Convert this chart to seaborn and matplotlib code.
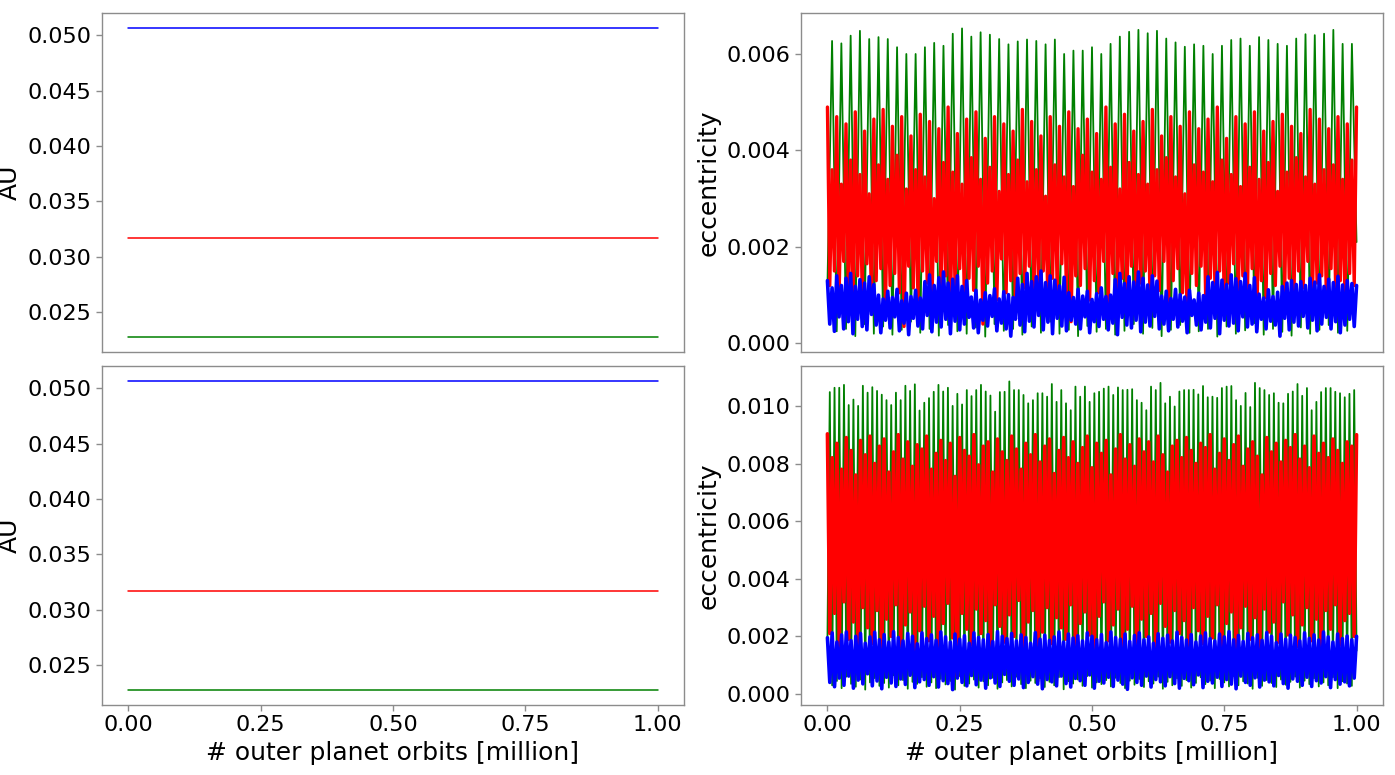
import numpy as np
import seaborn as sns
import matplotlib
matplotlib.use("Agg")
import matplotlib.pyplot as plt

# semi-major axes [AU], flat over the run (two end points)
time_au = [0.0, 1.0]
au_blue = [0.0506, 0.0506]
au_red = [0.0317, 0.0317]
au_green = [0.0228, 0.0228]

# eccentricity, units of 1e-5, read off the curves as alternating lows / highs
# --- top run ---
green_top_troughs = [120, 25, 30, 15, 40, 20, 35, 18, 28, 45,
                     22, 30, 16, 38, 25, 20, 33, 14, 40, 26,
                     30, 18, 35, 22, 45, 20, 28, 15, 36, 24,
                     30, 18, 26, 40, 20, 32, 15, 28, 38, 22,
                     25, 30, 14, 35, 20, 27, 42, 18, 30, 24,
                     16, 33, 20, 28, 38, 22, 26, 210]
green_top_peaks = [627, 622, 638, 648, 631, 635, 631, 614, 600, 600,
                   614, 623, 617, 642, 653, 636, 645, 640, 631, 620,
                   626, 630, 627, 620, 630, 600, 607, 607, 614, 600,
                   621, 636, 646, 650, 643, 648, 632, 624, 615, 620,
                   617, 600, 617, 629, 632, 617, 635, 629, 621, 617,
                   632, 641, 639, 642, 650, 621, 621]
red_top_highs = [490, 360, 470, 330, 455, 380, 480, 350, 440, 310,
                 465, 370, 485, 340, 450, 390, 470, 320, 430, 360,
                 475, 345, 460, 300, 445, 375, 490, 355, 435, 330,
                 465, 385, 480, 340, 425, 365, 470, 315, 455, 350,
                 440, 380, 485, 335, 460, 360, 430, 305, 470, 370,
                 450, 345, 480, 325, 445, 390, 465, 355, 435, 340,
                 490, 365, 455, 320, 475, 375, 440, 350, 460, 330,
                 485, 360, 430, 385, 470, 345, 450, 310, 480, 370,
                 445, 355, 465, 335, 490, 380, 425, 350, 470, 325,
                 455, 365, 480, 340, 440, 375, 460, 315, 475, 355,
                 450, 385, 435, 345, 485, 330, 465, 360, 445, 370,
                 470, 340, 455, 380, 490]
red_top_lows = [120, 150, 95, 170, 110, 60, 140, 100, 165, 85,
                130, 155, 75, 120, 145, 105, 35, 160, 115, 90,
                150, 125, 80, 170, 100, 140, 65, 115, 155, 95,
                135, 110, 160, 40, 125, 150, 90, 175, 105, 130,
                70, 145, 115, 160, 95, 120, 150, 85, 135, 110,
                165, 100, 45, 140, 120, 155, 90, 130, 105, 170,
                80, 145, 115, 135, 60, 160, 100, 125, 150, 95,
                140, 110, 170, 85, 130, 155, 105, 50, 145, 120,
                160, 90, 135, 115, 150, 75, 125, 165, 100, 140,
                110, 155, 30, 130, 95, 145, 120, 160, 105, 135,
                85, 150, 115, 170, 100, 125, 140, 90, 155, 110,
                130, 95, 145, 120]
blue_top_highs = [130, 115, 140, 120, 135, 145, 118, 132, 125, 138, 122,
                  100, 92, 108, 95, 112, 88, 104, 97, 110, 94,
                  128, 142, 120, 136, 148, 125, 133, 140, 118, 130,
                  96, 110, 90, 105, 99, 113, 92, 107, 101, 95,
                  135, 122, 145, 128, 138, 150, 126, 140, 131, 119, 137,
                  105, 95, 112, 98, 108, 91, 103, 115, 97, 100,
                  132, 145, 124, 138, 127, 148, 135, 121, 140, 129,
                  98, 108, 93, 112, 101, 96, 110, 90, 104, 99,
                  138, 126, 147, 131, 122, 142, 134, 128, 145, 120, 136,
                  102, 94, 111, 97, 106, 118, 125, 130, 122, 128, 120,
                  135, 127, 142, 118, 133, 126, 139, 121, 130, 124, 120]
blue_top_lows = [40, 25, 55, 30, 45, 20, 50, 35, 28, 60,
                 38, 22, 48, 32, 55, 26, 42, 18, 52, 36,
                 30, 58, 24, 44, 34, 50, 20, 46, 28, 40,
                 54, 32, 22, 48, 36, 56, 26, 42, 30, 15,
                 50, 38, 24, 46, 34, 58, 28, 44, 20, 52,
                 36, 26, 48, 40, 30, 55, 22, 45, 35, 50,
                 28, 42, 18, 54, 38, 32, 48, 24, 44, 36,
                 56, 30, 40, 26, 50, 34, 46, 22, 58, 38,
                 28, 44, 32, 52, 20, 48, 36, 42, 26, 55,
                 34, 40, 24, 50, 30, 46, 38, 15, 52, 28,
                 44, 36, 56, 32, 48, 26, 40, 54, 30, 45,
                 22, 38, 50, 35]

# --- bottom run ---
green_bot_troughs = [190, 30, 45, 20, 60, 35, 25, 50, 15, 40,
                     55, 28, 38, 22, 65, 30, 48, 18, 42, 35,
                     58, 25, 40, 20, 52, 33, 45, 15, 62, 28,
                     36, 50, 22, 44, 30, 56, 18, 40, 48, 26,
                     60, 34, 20, 46, 38, 54, 24, 42, 30, 58,
                     16, 44, 36, 50, 28, 62, 22, 40, 34, 48,
                     26, 56, 38, 20, 46, 32, 52, 24, 44, 36,
                     60, 18, 42, 30, 54, 28, 48, 22, 38, 58,
                     34, 46, 20, 52, 40, 26, 62, 30, 44, 36,
                     18, 56, 28, 48, 38, 24, 50, 32, 42, 60,
                     22, 46, 34, 54, 26, 40, 30, 58, 20, 44,
                     36, 28, 150]
green_bot_peaks = [1048, 1063, 1063, 1073, 1003, 1022, 1000, 1070, 1046, 1065,
                   1052, 1039, 1020, 1003, 1046, 1020, 1070, 1052, 1075, 984,
                   1011, 1027, 1049, 1073, 1050, 1063, 1000, 1042, 1005, 1055,
                   1034, 1055, 1073, 1050, 1036, 980, 1048,
                   1049, 1085, 1055, 1055, 1038, 1009, 1020, 1044, 1044, 1032,
                   1076, 1014, 1055, 1009, 985, 1067, 1032, 1067, 1014, 1044,
                   1049, 1060, 1067, 1038, 1064, 1055, 1056, 1058, 1020, 1011,
                   985, 1067, 1055, 1080, 1009, 1032, 998, 1050, 1055, 1055,
                   1056, 1040, 1069, 1030, 1032, 1028, 1062, 1067, 1069, 1020,
                   1000, 1045, 996, 1080, 1062, 1055, 1038, 1044, 1011, 1009,
                   1042, 1050, 1076, 1035, 1062, 985, 1014, 1048, 1062, 1062,
                   1049, 1044, 1030, 1042, 1055]
red_bot_highs = [903, 820, 870, 780, 890, 845, 760, 880, 830, 895,
                 800, 860, 885, 770, 840, 900, 815, 875, 790, 865,
                 850, 895, 780, 835, 880, 810, 870, 755, 890, 845,
                 825, 900, 795, 860, 875, 770, 885, 840, 810, 895,
                 850, 780, 870, 830, 900, 805, 860, 885, 765, 845,
                 890, 820, 875, 800, 855, 895, 785, 870, 835, 880,
                 760, 850, 900, 815, 865, 790, 885, 840, 875, 805,
                 895, 830, 770, 860, 880, 820, 890, 845, 800, 870,
                 855, 900, 780, 835, 885, 810, 865, 895, 790, 850,
                 875, 825, 760, 890, 840, 870, 805, 880, 855, 900,
                 815, 860, 785, 895, 835, 870, 820, 885, 845, 800,
                 875, 860, 900]
red_bot_lows = [210, 280, 160, 320, 190, 250, 140, 300, 230, 175,
                290, 40, 260, 200, 310, 165, 240, 285, 150, 220,
                305, 185, 270, 130, 245, 315, 195, 60, 280, 225,
                170, 295, 210, 255, 145, 310, 235, 180, 275, 200,
                325, 160, 250, 290, 45, 215, 300, 175, 265, 230,
                190, 310, 155, 245, 285, 205, 135, 270, 320, 185,
                240, 295, 165, 225, 305, 70, 260, 200, 280, 150,
                315, 235, 180, 290, 210, 255, 140, 300, 220, 175,
                270, 195, 310, 160, 245, 285, 50, 230, 305, 190,
                265, 145, 295, 215, 250, 180, 320, 205, 275, 165,
                240, 300, 185, 260, 135, 290, 225, 310, 170, 255,
                280, 200]
blue_bot_highs = [195, 212, 180, 205, 215, 185, 200, 210, 176, 198,
                  214, 188, 206, 180, 216, 196, 184, 210, 200, 174,
                  212, 192, 205, 186, 215, 198, 180, 208, 190, 202,
                  176, 212, 196, 188, 206, 182, 216, 200, 192, 210,
                  184, 205, 196, 176, 213, 190, 204, 186, 198, 215,
                  180, 208, 194, 202, 184, 212, 200, 188, 206, 178,
                  215, 196, 190, 208, 182, 203, 212, 188, 198, 176,
                  209, 193, 204, 184, 214, 196, 187, 206, 180, 201,
                  212, 192, 184, 208, 198, 216, 188, 203, 182, 210,
                  195, 205, 186, 213, 200, 178, 208, 190, 204, 196,
                  184, 212, 193, 205, 187, 215, 198, 180, 208, 192,
                  201, 188, 200]
blue_bot_lows = [40, 25, 55, 30, 62, 20, 48, 35, 70, 28,
                 45, 18, 58, 38, 26, 52, 33, 65, 22, 42,
                 50, 30, 60, 24, 46, 36, 15, 55, 40, 28,
                 64, 32, 48, 20, 56, 38, 26, 68, 44, 30,
                 52, 22, 40, 60, 34, 18, 50, 42, 28, 62,
                 36, 24, 54, 46, 30, 66, 20, 44, 38, 58,
                 26, 48, 34, 16, 56, 40, 30, 62, 24, 50,
                 42, 28, 60, 36, 20, 54, 46, 32, 66, 22,
                 44, 38, 58, 26, 50, 34, 18, 62, 40, 30,
                 56, 24, 48, 42, 28, 64, 36, 20, 52, 44,
                 30, 58, 26, 46, 38, 60, 22, 50, 34, 42,
                 28, 55]

xticks = [0.0, 0.25, 0.5, 0.75, 1.0]


def zigzag(first, second):
    # weave the two lists of extremes into one series
    out = []
    for i, v in enumerate(first):
        out.append(v)
        if i < len(second):
            out.append(second[i])
    return np.array(out) * 1e-5


def draw_ecc(ax, series):
    for vals, col, lw in series:
        t = np.linspace(0, 1, len(vals))
        sns.lineplot(x=t, y=vals, color=col, lw=lw, ax=ax, estimator=None, sort=False)


sns.set_style("ticks", {"axes.edgecolor": "0.55", "xtick.color": "0.55", "ytick.color": "0.55",
                        "text.color": "black", "axes.labelcolor": "black"})
plt.rcParams["font.family"] = ["DejaVu Sans"]

f, axes = plt.subplots(nrows=2, ncols=2, figsize=(13.95, 7.75), dpi=100)
f.subplots_adjust(left=0.0731, right=0.9914, bottom=0.0903, top=0.9832, wspace=0.201, hspace=0.0413)

for row in range(2):
    ax = axes[row, 0]
    sns.lineplot(x=time_au, y=au_blue, color="blue", lw=1.1, ax=ax)
    sns.lineplot(x=time_au, y=au_red, color="red", lw=1.1, ax=ax)
    sns.lineplot(x=time_au, y=au_green, color="green", lw=1.1, ax=ax)
    ax.set_yticks([0.025, 0.030, 0.035, 0.040, 0.045, 0.050])
    ax.set_ylabel("AU", fontsize=18)

draw_ecc(axes[0, 1], [(zigzag(green_top_troughs, green_top_peaks), "green", 1.3),
                      (zigzag(red_top_highs, red_top_lows), "red", 2.4),
                      (zigzag(blue_top_highs, blue_top_lows), "blue", 2.6)])
axes[0, 1].set_yticks([0.0, 0.002, 0.004, 0.006])

draw_ecc(axes[1, 1], [(zigzag(green_bot_troughs, green_bot_peaks), "green", 1.3),
                      (zigzag(red_bot_highs, red_bot_lows), "red", 2.6),
                      (zigzag(blue_bot_highs, blue_bot_lows), "blue", 2.6)])
axes[1, 1].set_yticks([0.0, 0.002, 0.004, 0.006, 0.008, 0.010])

for ax in axes[:, 1]:
    ax.set_ylabel("eccentricity", fontsize=18)

for ax in axes.flat:
    ax.set_xticks(xticks)
    ax.yaxis.set_major_formatter(matplotlib.ticker.FormatStrFormatter("%.3f"))
    ax.tick_params(labelsize=16, labelcolor="black", length=4, width=1)
    for s in ax.spines.values():
        s.set_visible(True)
        s.set_linewidth(1.0)

for ax in axes[0, :]:
    ax.tick_params(axis="x", bottom=False, labelbottom=False)
    ax.set_xlabel("")
for ax in axes[1, :]:
    ax.xaxis.set_major_formatter(matplotlib.ticker.FormatStrFormatter("%.2f"))
    ax.set_xlabel("# outer planet orbits [million]", fontsize=18)

f.savefig("out.png", dpi=100)
